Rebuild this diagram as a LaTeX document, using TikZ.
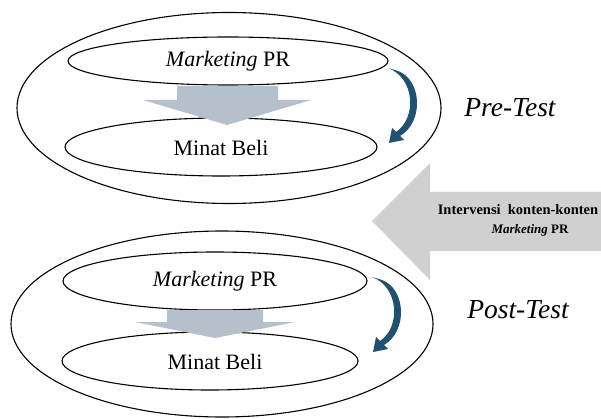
\documentclass[tikz,border=0pt]{standalone}
\usepackage{fontspec}
\setmainfont{Liberation Serif}
\usetikzlibrary{shapes.geometric}
\definecolor{downgray}{HTML}{B5C0CC}
\definecolor{biggray}{HTML}{D0D0D0}
\definecolor{curvblue}{HTML}{1F5270}
\begin{document}
\begin{tikzpicture}[x=1pt,y=-1pt,
  ell/.style={draw=black,line width=1.1pt,ellipse,inner sep=0pt},
  lbl/.style={font=\fontsize{22}{24}\selectfont},
  phase/.style={font=\fontsize{27.5}{30}\selectfont\itshape},
  curvarrow/.pic={\fill[curvblue] (0,0) .. controls (27,10) and (29,50) .. (8,64) -- (4,60) -- (1,75) -- (16,72) -- (12,68) .. controls (36,54) and (34,12) .. (10,3) -- cycle;}]
\useasboundingbox (0,0) rectangle (601,419);
% top group
\node[ell,minimum width=424pt,minimum height=191pt] (o1) at (229,108) {};
\node[ell,lbl,minimum width=320pt,minimum height=48pt] (m1) at (228,61) {\textit{Marketing} PR};
\node[ell,minimum width=312pt,minimum height=58pt] (b1e) at (221,147) {};
\fill[downgray] (177,86) -- (278,86) -- (278,100) -- (311,100) -- (227,125) -- (143,100) -- (177,100) -- cycle;
\node[lbl] (b1) at (221,148) {Minat Beli};
\pic at (388,68) {curvarrow};
\node[phase] (pre) at (510,108) {Pre-Test};
% big arrow
\fill[biggray] (601,192) -- (430,192) -- (430,163) -- (372,221) -- (430,280) -- (430,251) -- (601,251) -- cycle;
\node[font=\fontsize{14.5}{16}\selectfont\bfseries] (iv1) at (518,210) {Intervensi\ \ konten-konten};
\node[font=\fontsize{13}{15}\selectfont\bfseries] (iv2) at (530,230) {\textit{Marketing} PR};
% bottom group
\node[ell,minimum width=422pt,minimum height=186pt] (o2) at (222,324) {};
\node[ell,lbl,minimum width=304pt,minimum height=58pt] (m2) at (215,281) {\textit{Marketing} PR};
\node[ell,minimum width=296pt,minimum height=58pt] (b2e) at (210,361) {};
\fill[downgray] (167,310) -- (263,310) -- (263,322) -- (295,322) -- (215,338) -- (135,322) -- (167,322) -- cycle;
\node[lbl] (b2) at (215,362) {Minat Beli};
\pic at (372,277) {curvarrow};
\node[phase] (post) at (518,310) {Post-Test};
\end{tikzpicture}
\end{document}
